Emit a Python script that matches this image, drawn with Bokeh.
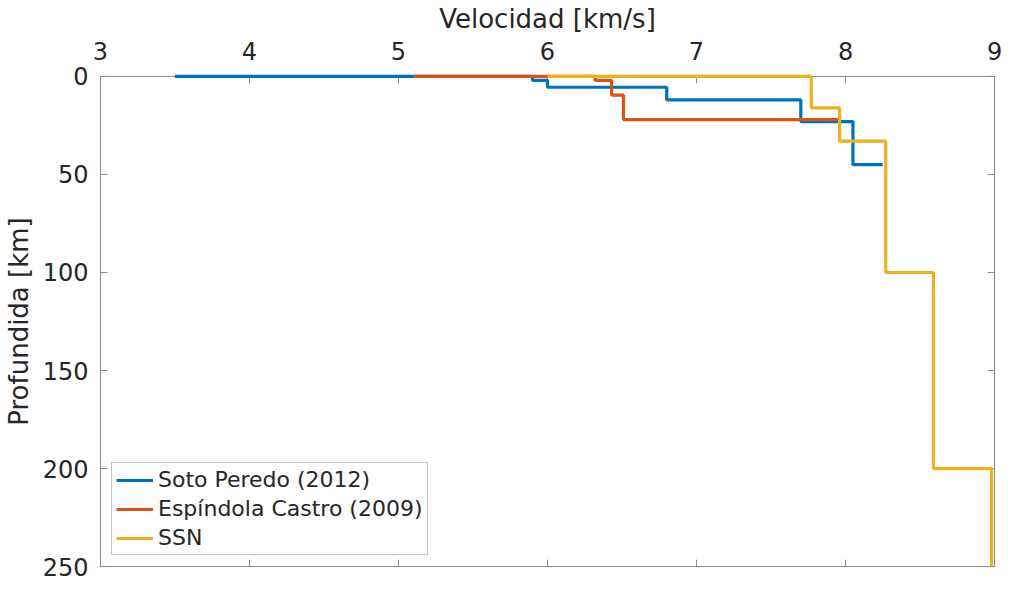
from bokeh.plotting import figure
from bokeh.models import Range1d, FixedTicker, Legend, LegendItem
from bokeh.embed import file_html
from bokeh.resources import INLINE

# Step-profile vertices (velocity km/s, depth km)
soto_vel = [3.5, 5.9, 5.9, 6.0, 6.0, 6.8, 6.8, 7.7, 7.7, 8.05, 8.05, 8.25]
soto_dep = [0, 0, 2, 2, 5.5, 5.5, 12, 12, 23, 23, 45, 45]

esp_vel = [5.1, 6.32, 6.32, 6.43, 6.43, 6.51, 6.51, 7.95]
esp_dep = [0, 0, 2, 2, 9.5, 9.5, 22, 22]

ssn_vel = [6.0, 7.77, 7.77, 7.96, 7.96, 8.27, 8.27, 8.59, 8.59, 8.98, 8.98]
ssn_dep = [0, 0, 16, 16, 33, 33, 100, 100, 200, 200, 250]

x_ticks = [3, 4, 5, 6, 7, 8, 9]
y_ticks = [0, 50, 100, 150, 200, 250]

names = ["Soto Peredo (2012)", "Espíndola Castro (2009)", "SSN"]
colors = ["#0072BD", "#D95319", "#EDB120"]

FONT = "DejaVu Sans"
TXT = "#262626"
AX = "#8a8a8a"

X0, X1 = 3, 9
Y0, Y1 = 0, 250

W, H = 1005, 583
BL, BR, BT, BB = 90, 8, 64, 14
PAD = 3  # px of room round the box so lines on its edge are not cut
fw = W - BL - BR
fh = H - BT - BB
ex = PAD * (X1 - X0) / (fw - 2 * PAD)
ey = PAD * (Y1 - Y0) / (fh - 2 * PAD)
kx = (X1 - X0 + 2 * ex) / fw   # data units per px
ky = (Y1 - Y0 + 2 * ey) / fh

p = figure(width=W, height=H, output_backend="svg", toolbar_location=None,
           x_range=Range1d(X0 - ex, X1 + ex), y_range=Range1d(Y1 + ey, Y0 - ey),
           x_axis_location="above", min_border_left=BL, min_border_top=BT,
           min_border_right=BR, min_border_bottom=BB)
p.grid.visible = False
p.outline_line_color = None
p.background_fill_color = "white"
p.border_fill_color = "white"

for ax in (p.xaxis[0], p.yaxis[0]):
    ax.axis_line_color = None
    ax.major_tick_line_color = None
    ax.minor_tick_line_color = None
    ax.major_tick_in = 0
    ax.major_tick_out = 0
    ax.major_label_text_color = TXT
    ax.major_label_text_font = FONT
    ax.major_label_text_font_size = "24px"
    ax.axis_label_text_font = FONT
    ax.axis_label_text_color = TXT
    ax.axis_label_text_font_style = "normal"
    ax.axis_label_text_font_size = "26px"

xa = p.xaxis[0]
xa.ticker = FixedTicker(ticks=x_ticks)
xa.axis_label = "Velocidad [km/s]"
xa.major_label_standoff = 14
xa.axis_label_standoff = 5

ya = p.yaxis[0]
ya.ticker = FixedTicker(ticks=y_ticks)
ya.axis_label = "Profundida [km]"
ya.major_label_standoff = 9
ya.axis_label_standoff = 6

# box
p.quad(left=X0, right=X1, top=Y0, bottom=Y1, fill_color=None,
       line_color=AX, line_width=1)
# inward ticks on all four sides
tl = 7
p.segment(x0=x_ticks, x1=x_ticks, y0=[Y0] * len(x_ticks), y1=[Y0 + tl * ky] * len(x_ticks),
          line_color=AX, line_width=1)
p.segment(x0=x_ticks, x1=x_ticks, y0=[Y1] * len(x_ticks), y1=[Y1 - tl * ky] * len(x_ticks),
          line_color=AX, line_width=1)
p.segment(x0=[X0] * len(y_ticks), x1=[X0 + tl * kx] * len(y_ticks), y0=y_ticks, y1=y_ticks,
          line_color=AX, line_width=1)
p.segment(x0=[X1] * len(y_ticks), x1=[X1 - tl * kx] * len(y_ticks), y0=y_ticks, y1=y_ticks,
          line_color=AX, line_width=1)

items = []
for vx, dy, nm, c in [(soto_vel, soto_dep, names[0], colors[0]),
                      (esp_vel, esp_dep, names[1], colors[1]),
                      (ssn_vel, ssn_dep, names[2], colors[2])]:
    r = p.line(vx, dy, line_color=c, line_width=3.2)
    items.append(LegendItem(label=nm, renderers=[r]))

leg = Legend(items=items, location=(14, 14))
leg.label_text_font = FONT
leg.label_text_font_size = "22px"
leg.label_text_color = TXT
leg.glyph_width = 37
leg.glyph_height = 20
leg.label_height = 20
leg.spacing = 4
leg.padding = 4
leg.margin = 0
leg.label_standoff = 5
leg.border_line_color = AX
leg.border_line_width = 1
leg.background_fill_color = "white"
leg.background_fill_alpha = 1
p.add_layout(leg, "center")

open("out.html", "w").write(file_html(p, INLINE))
